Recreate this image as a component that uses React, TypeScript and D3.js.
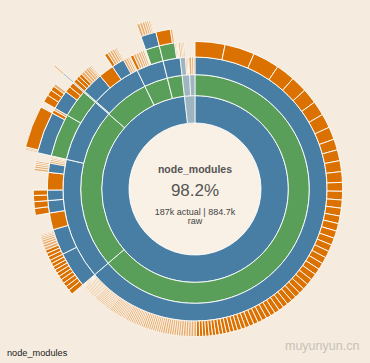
import React from 'react';
import * as d3 from 'd3';

const W = 370;
const H = 363;
const CX = 195;
const CY = 189;
const R = 186.7; // outer edge of the deepest ring (7 levels + hole)
const FADE_BELOW = 0.02; // arcs narrower than this (radians) are drawn faded

const BG = '#f5ecdf';
const BLUE = '#487ea4';
const GREEN = '#599e59';
const ORANGE = '#db7100';

// sizes in arbitrary units, whole chart = 360
// node_modules/react/lib, biggest files first
const reactLibLarge = [11.8, 11.8, 10.5, 7.5, 6.4, 6.0, 5.7, 5.6, 5.0, 4.3, 4.3, 4.3, 4.2, 3.5, 3.4];
const reactLibMid = [
  3.2, 3.1, 3.0, 3.0, 2.9, 2.8, 2.7, 2.7, 2.6, 2.6, 2.5, 2.5, 2.4,
  2.3, 2.2, 2.2, 2.1, 2.1, 2.0, 2.0, 2.0, 1.9, 1.9, 1.9, 1.8, 1.8, 1.8, 1.7,
  1.6, 1.6, 1.5, 1.5, 1.5, 1.4, 1.4, 1.4, 1.3, 1.3, 1.3, 1.2, 1.2, 1.2,
];
const reactLibSmall = [
  1.1, 1.1, 1.0, 1.0, 1.0, 1.0, 0.9, 0.9, 0.9, 0.9, 0.9, 0.9, 0.9, 0.9,
  0.8, 0.8, 0.8, 0.8, 0.8, 0.8, 0.8, 0.8, 0.8, 0.8,
  0.7, 0.7, 0.7, 0.7, 0.7, 0.7, 0.7, 0.7, 0.7, 0.7,
];
const reactLibTiny = [
  0.6, 0.6, 0.6, 0.6, 0.6, 0.6, 0.6, 0.6, 0.6, 0.6, 0.6, 0.6,
  0.5, 0.5, 0.5, 0.5, 0.5, 0.5, 0.5, 0.5, 0.5, 0.5, 0.5, 0.5, 0.5, 0.5,
  0.4, 0.4, 0.4, 0.4, 0.4, 0.4, 0.4, 0.4, 0.4, 0.4, 0.4, 0.4, 0.4, 0.4, 0.4,
  0.3, 0.3, 0.3, 0.3, 0.3,
];

// second package (lower left)
const pkgBDirA = [1.8, 1.6, 1.5, 1.5, 1.4, 1.4, 1.3, 1.3, 1.3, 1.2];
const pkgBDirB = [1.4, 1.3, 1.2, 1.1, 1.0, 0.9, 0.8, 0.7, 0.6, 0.5, 0.4, 0.3];
const pkgBDirC = [2.5, 2.4];
const pkgBDirD = [2.2, 1.9];
const pkgBDirE = [0.9, 0.8, 0.7, 0.6, 0.6];
const pkgBLoose = [6.6, 6.9];
const pkgBTail = [0.8, 0.7, 0.6, 0.5, 0.3];
const pkgBNestedA = [0.5, 0.5, 14];
const pkgBNestedAFiles = [1.2, 0.8];
const pkgBNestedB = [2.5, 2.0, 1.5, 1.0];
const pkgBNestedBFiles = [2.2, 1.8];

// third package (upper left)
const pkgCSliver = [0.5];
const pkgCDirA = [1.4, 1.3, 1.2, 1.1, 1.0, 0.9, 0.7, 0.5, 0.4];
const pkgCLoose = [6];
const pkgCDirB = [1.2, 1.0, 0.9, 0.8, 0.6, 0.5];
const pkgCTail = [1.0, 0.8, 0.7, 0.5];

// two narrow packages near the top
const pkgDFiles = [1.3, 1.1, 1.0, 0.9, 0.8, 0.7, 0.4, 0.3];
const pkgDNested = [1.0, 0.9, 0.8, 0.7, 0.6, 0.5, 0.4, 0.3, 0.3];
const pkgEDeep = [5.2, 0.8];
const pkgEFiles = [0.5, 0.4, 0.3, 0.3];

// app code outside node_modules (1.8%)
const srcComponentsDeep = [0.7, 0.6, 0.5, 0.5];
const srcComponentsFiles = [0.6, 0.5, 0.4];
const srcUtilsFiles = [1.2, 0.9, 0.6];

type Node = { name: string; value?: number; children?: Node[] };

const files = (prefix: string, sizes: number[]): Node[] =>
  sizes.map((v, i) => ({ name: `${prefix}-${i}.js`, value: v }));
const dir = (name: string, children: Node[]): Node => ({ name, children });

const tree: Node = dir('root', [
  dir('node_modules', [
    dir('react', [
      dir('lib', files('react', [...reactLibLarge, ...reactLibMid, ...reactLibSmall, ...reactLibTiny])),
    ]),
    dir('pkg-b', [
      dir('lib', [
        dir('a', files('ba', pkgBDirA)),
        dir('b', files('bb', pkgBDirB)),
        ...files('bl0', [pkgBLoose[0]]),
        dir('c', files('bc', pkgBDirC)),
        dir('d', files('bd', pkgBDirD)),
        ...files('bl1', [pkgBLoose[1]]),
        dir('e', files('be', pkgBDirE)),
        ...files('bt', pkgBTail),
      ]),
      dir('node_modules', [
        dir('nested-a', [dir('lib', files('na', pkgBNestedA)), ...files('naf', pkgBNestedAFiles)]),
        dir('nested-b', [dir('lib', files('nb', pkgBNestedB)), ...files('nbf', pkgBNestedBFiles)]),
      ]),
    ]),
    dir('pkg-c', [
      dir('node_modules', [dir('deep', [dir('src', [dir('util', files('cs', pkgCSliver))])])]),
      dir('lib', [
        dir('a', files('ca', pkgCDirA)),
        ...files('cl', pkgCLoose),
        dir('b', files('cb', pkgCDirB)),
        ...files('ct', pkgCTail),
      ]),
    ]),
    dir('pkg-d', [
      dir('node_modules', [
        ...files('df', pkgDFiles),
        dir('nested-d', [dir('lib', files('dn', pkgDNested))]),
      ]),
    ]),
    dir('pkg-e', [
      dir('node_modules', [
        dir('nested-e', files('ed', pkgEDeep)),
        ...files('ef', pkgEFiles),
      ]),
    ]),
  ]),
  dir('src', [
    dir('components', [dir('common', files('scd', srcComponentsDeep)), ...files('scf', srcComponentsFiles)]),
    dir('utils', files('su', srcUtilsFiles)),
  ]),
]);

type PNode = d3.HierarchyRectangularNode<Node>;

const color = (d: PNode) =>
  !d.children ? ORANGE : d.parent && d.parent.data.name === 'node_modules' ? GREEN : BLUE;

// the selected branch is node_modules: everything else, and every sliver, is faded
const faded = (d: PNode) =>
  d.x1 - d.x0 < FADE_BELOW || !d.ancestors().some(a => a.data.name === 'node_modules');

export default function App() {
  const root = d3.partition<Node>().size([2 * Math.PI, R * R])(
    d3.hierarchy(tree).sum(d => d.value ?? 0)
  );
  const nodes = root.descendants().filter(d => d.depth > 0);
  const arc = d3
    .arc<PNode>()
    .startAngle(d => d.x0)
    .endAngle(d => d.x1)
    .innerRadius(d => Math.sqrt(d.y0))
    .outerRadius(d => Math.sqrt(d.y1));
  const hole = Math.sqrt(root.y1);

  return (
    <svg width={W} height={H} style={{ position: 'absolute', left: 0, top: 0, fontFamily: 'Liberation Sans, Arial, sans-serif' }}>
      <rect width={W} height={H} fill={BG} />
      <g transform={`translate(${CX},${CY})`}>
        <circle r={hole} fill="#f9f1e6" />
        {nodes.map((d, i) => (
          <path
            key={i}
            d={arc(d) || ''}
            fill={color(d)}
            stroke="#fff"
            strokeWidth={0.9}
            opacity={faded(d) ? 0.5 : 1}
          />
        ))}
        <text y={-16} textAnchor="middle" fontSize={10.5} fontWeight="bold" fill="#555">node_modules</text>
        <text y={7} textAnchor="middle" fontSize={17} fill="#555">98.2%</text>
        <text y={26} textAnchor="middle" fontSize={9} fill="#444">187k actual | 884.7k</text>
        <text y={35} textAnchor="middle" fontSize={9} fill="#444">raw</text>
      </g>
      <text x={7} y={356} fontSize={9.2} fill="#222">node_modules</text>
      <text x={285} y={350} fontSize={12.5} fill="#c9c1b8">muyunyun.cn</text>
    </svg>
  );
}
